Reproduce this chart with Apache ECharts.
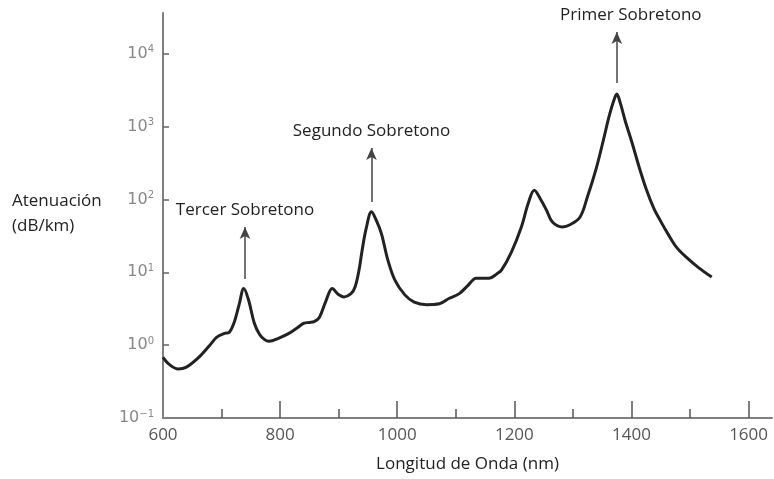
<!DOCTYPE html>
<html lang="es">
<head>
<meta charset="UTF-8"/>
<title>Atenuación</title>
<script src="https://cdn.jsdelivr.net/npm/echarts@6/dist/echarts.min.js"></script>
<style>
  html, body { margin: 0; padding: 0; background: #fff; }
  #main { width: 774px; height: 479px; }
</style>
</head>
<body>
<div id="main"></div>
<script>
// longitud de onda (nm) y atenuación (dB/km)
var lambda = [600, 610, 626, 640, 661, 680, 692, 705, 713, 721, 730, 738, 746, 756, 765, 773, 781, 798, 815, 830,
  841, 850, 858, 867, 878, 889, 899, 909, 921, 928, 935, 940, 947, 956, 965, 973, 984, 996, 1013, 1029,
  1050, 1072, 1089, 1106, 1120, 1135, 1157, 1170, 1178, 1195, 1212, 1224, 1234, 1245, 1255, 1265, 1282, 1295, 1312,
  1325, 1340, 1352, 1362, 1370, 1375, 1381, 1390, 1400, 1413, 1425, 1438, 1450, 1462, 1477, 1494, 1515, 1537];
var atten = [0.68, 0.55, 0.47, 0.5, 0.68, 1.0, 1.29, 1.45, 1.5, 2.0, 3.6, 6.0, 4.2, 2.0, 1.4, 1.2, 1.13, 1.25, 1.45, 1.75,
  2.0, 2.05, 2.1, 2.4, 4.0, 6.0, 5.0, 4.6, 5.1, 6.3, 11, 20, 40, 68, 50, 34, 14.7, 7.8, 4.9, 3.9,
  3.6, 3.7, 4.4, 5.1, 6.5, 8.3, 8.3, 9.5, 10.7, 19, 42, 90, 134, 100, 71, 49, 42, 45, 57,
  110, 270, 650, 1400, 2300, 2800, 2100, 1150, 640, 280, 140, 76, 50, 34, 22, 16, 11.5, 8.6];

// sobretonos: posición, inicio y punta de la flecha
var notaNombres = ['Tercer Sobretono', 'Segundo Sobretono', 'Primer Sobretono'];
var notaLambda = [740, 956, 1375];
var notaDesde = [8.1, 92, 3980];
var notaHasta = [41.8, 508, 19950];
var notaCorrimiento = [0, 0, 14];

var xTicks = [600, 800, 1000, 1200, 1400, 1600];
var xMajor = [800, 1000, 1200, 1400, 1600];
var xMinor = [700, 900, 1100, 1300, 1500];
var yTicks = [1, 10, 100, 1000, 10000];

var myChart = echarts.init(document.getElementById('main'));

var puntos = [];
for (var i = 0; i < lambda.length; i++) {
  puntos.push([lambda[i], atten[i]]);
}

var flechas = [];
for (var j = 0; j < notaNombres.length; j++) {
  flechas.push([
    { coord: [notaLambda[j], notaDesde[j]], name: notaNombres[j], label: { offset: [notaCorrimiento[j], 0] } },
    { coord: [notaLambda[j], notaHasta[j]], name: notaNombres[j] }
  ]);
}

var ejeGris = { show: true, lineStyle: { color: '#808080', width: 2 } };

var option = {
  animation: false,
  grid: { left: 163, right: 2, top: 13, bottom: 61, outerBoundsMode: 'none', containLabel: false },
  xAxis: [{
    type: 'value',
    min: 600,
    max: 1640,
    interval: 200,
    name: 'Longitud de Onda (nm)',
    nameLocation: 'middle',
    nameGap: 38,
    nameTextStyle: { fontFamily: 'Open Sans', fontSize: 17, color: '#222' },
    axisLine: ejeGris,
    splitLine: { show: false },
    axisTick: { show: true, inside: true, length: 17, customValues: xMajor, lineStyle: { color: '#555', width: 1.5 } },
    axisLabel: {
      customValues: xTicks, margin: 9, fontFamily: 'Open Sans', fontSize: 17, color: '#555',
      formatter: function (v) { return String(v); }
    }
  }, {
    type: 'value',
    min: 600,
    max: 1640,
    position: 'bottom',
    axisLine: { show: false },
    splitLine: { show: false },
    axisLabel: { show: false },
    axisTick: { show: true, inside: true, length: 9, customValues: xMinor, lineStyle: { color: '#555', width: 1.5 } }
  }],
  yAxis: {
    type: 'log',
    logBase: 10,
    min: 0.1,
    max: 36300,
    axisLine: ejeGris,
    splitLine: { show: false },
    axisTick: { show: true, inside: true, length: 6, customValues: yTicks, lineStyle: { color: '#666', width: 1.5 } },
    axisLabel: {
      margin: 9,
      formatter: function (v) {
        var e = Math.log10(v);
        var r = Math.round(e);
        if (Math.abs(e - r) > 1e-6) return '';
        return '{b|10}{s|' + (r < 0 ? '\u2212' + (-r) : r) + '}';
      },
      rich: {
        b: { fontFamily: 'DejaVu Sans', fontSize: 16, color: '#888' },
        s: { fontFamily: 'DejaVu Sans', fontSize: 10, color: '#888', verticalAlign: 'top', padding: [0, 0, 8, 0] }
      }
    }
  },
  graphic: [{
    type: 'text',
    left: 12,
    top: 189,
    style: {
      text: 'Atenuación\n(dB/km)',
      fontFamily: 'Open Sans',
      fontSize: 17,
      lineHeight: 25,
      fill: '#222'
    }
  }],
  series: [{
    type: 'line',
    data: puntos,
    smooth: 0.35,
    showSymbol: false,
    silent: true,
    lineStyle: { color: '#222', width: 3 },
    markLine: {
      silent: true,
      symbol: ['none', 'arrow'],
      symbolSize: [8, 12],
      lineStyle: { color: '#444', width: 1.5, type: 'solid' },
      label: {
        show: true,
        position: 'end',
        distance: 8,
        formatter: '{b}',
        fontFamily: 'Open Sans',
        fontSize: 17,
        color: '#222'
      },
      data: flechas
    }
  }]
};

myChart.setOption(option);
</script>
</body>
</html>
